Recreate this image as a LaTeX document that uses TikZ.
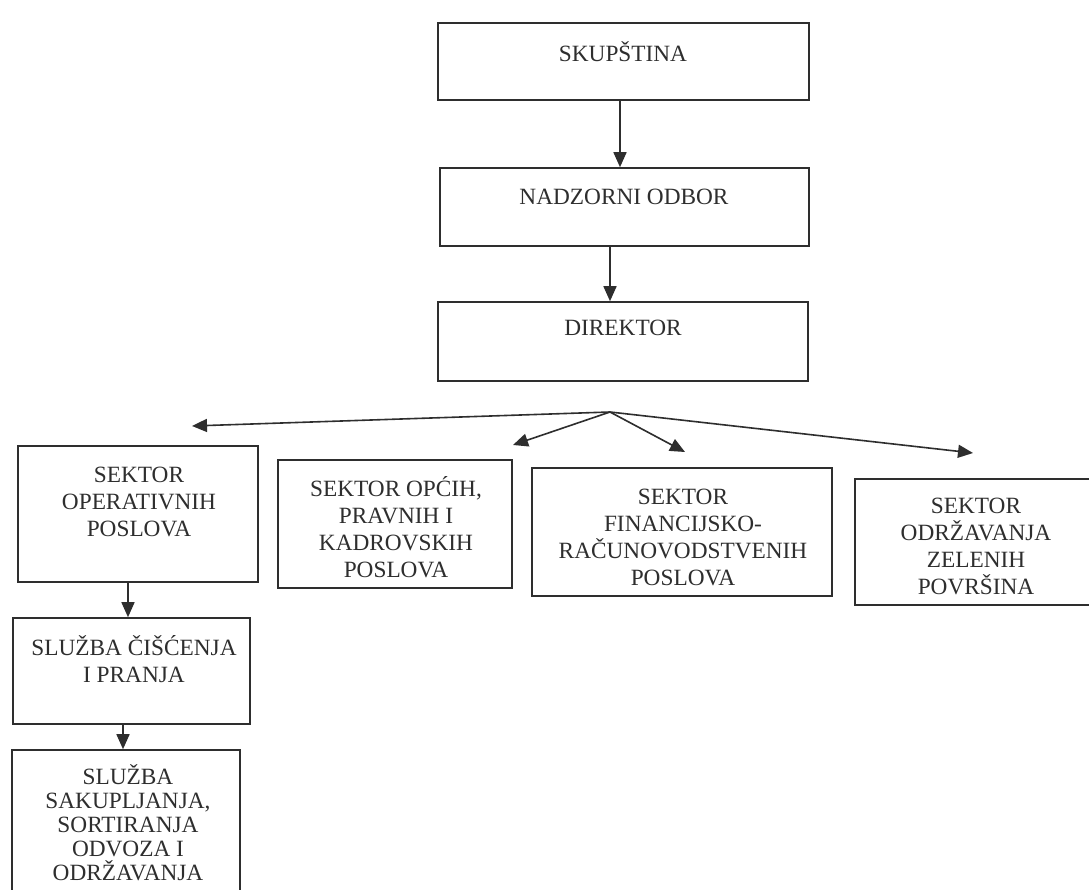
\documentclass[tikz,border=0pt]{standalone}
\usepackage{fontspec}
\setmainfont{Liberation Serif}
\usetikzlibrary{arrows.meta,calc}
\definecolor{ink}{HTML}{2E2E2E}
\begin{document}
\begin{tikzpicture}[x=1pt,y=-1pt,
  orgbox/.style={draw=ink, line width=1.6pt, rectangle, inner sep=0pt, minimum width=#1},
  txt/.style={text=ink, font=\fontsize{23.3}{27}\selectfont, align=center, inner sep=0pt},
  txtb/.style={text=ink, font=\fontsize{23.3}{24}\selectfont, align=center, inner sep=0pt},
  arr/.style={draw=ink, line width=1.6pt, -{Triangle[length=15pt,width=13pt]}}]
\useasboundingbox (0,0) rectangle (1089,890);
\clip (0,0) rectangle (1089,890);
\fill[white] (0,0) rectangle (1089,890);
% top chain
\node[orgbox=371pt, minimum height=77pt] (sk) at (623.5,61.5) {};
\node[txt] (skt) at (623,52) {SKUPŠTINA};
\node[orgbox=369pt, minimum height=78pt] (nad) at (624.5,207) {};
\node[txt] (nadt) at (624,197) {NADZORNI ODBOR};
\node[orgbox=370pt, minimum height=79pt] (dir) at (623,341.5) {};
\node[txt] (dirt) at (623,328) {DIREKTOR};
% sectors
\node[orgbox=240pt, minimum height=136pt] (op) at (138,514) {};
\node[txt] (opt) at (139,502) {SEKTOR\\OPERATIVNIH\\POSLOVA};
\node[orgbox=234pt, minimum height=128pt] (opc) at (395,524) {};
\node[txt] (opct) at (396,527) {SEKTOR OPĆIH,\\PRAVNIH I\\KADROVSKIH\\POSLOVA};
\node[orgbox=300pt, minimum height=128pt] (fin) at (682,532) {};
\node[txt] (fint) at (683,537) {SEKTOR\\FINANCIJSKO-\\RAČUNOVODSTVENIH\\POSLOVA};
\node[orgbox=242pt, minimum height=126pt] (odr) at (976,542) {};
\node[txt] (odrt) at (976,546) {SEKTOR\\ODRŽAVANJA\\ZELENIH\\POVRŠINA};
% services
\node[orgbox=237pt, minimum height=106pt] (cis) at (131.5,671) {};
\node[txt] (cist) at (134,659) {SLUŽBA ČIŠĆENJA\\I PRANJA};
\node[orgbox=228pt, minimum height=155pt] (sak) at (126,827.5) {};
\node[txtb] (sakt) at (128,823) {SLUŽBA\\SAKUPLJANJA,\\SORTIRANJA\\ODVOZA I\\ODRŽAVANJA};
% vertical connectors
\draw[arr] ([xshift=-3.5pt]sk.south) -- ([xshift=-3.5pt]sk.south |- nad.north);
\draw[arr] ([xshift=-14.5pt]nad.south) -- ([xshift=-14.5pt]nad.south |- dir.north);
\draw[arr] ([xshift=-10pt]op.south) -- ([xshift=-10pt]op.south |- cis.north);
\draw[arr] ([xshift=-8.5pt]cis.south) -- ([xshift=-8.5pt]cis.south |- sak.north);
% fan from director
\coordinate (apex) at (610,412);
\coordinate (t1) at (192,426);
\coordinate (t2) at (513,445);
\coordinate (t3) at (685,452);
\coordinate (t4) at (973,453);
\draw[arr] (apex) -- (t1);
\draw[arr] (apex) -- (t2);
\draw[arr] (apex) -- (t3);
\draw[arr] (apex) -- (t4);
\end{tikzpicture}
\end{document}
